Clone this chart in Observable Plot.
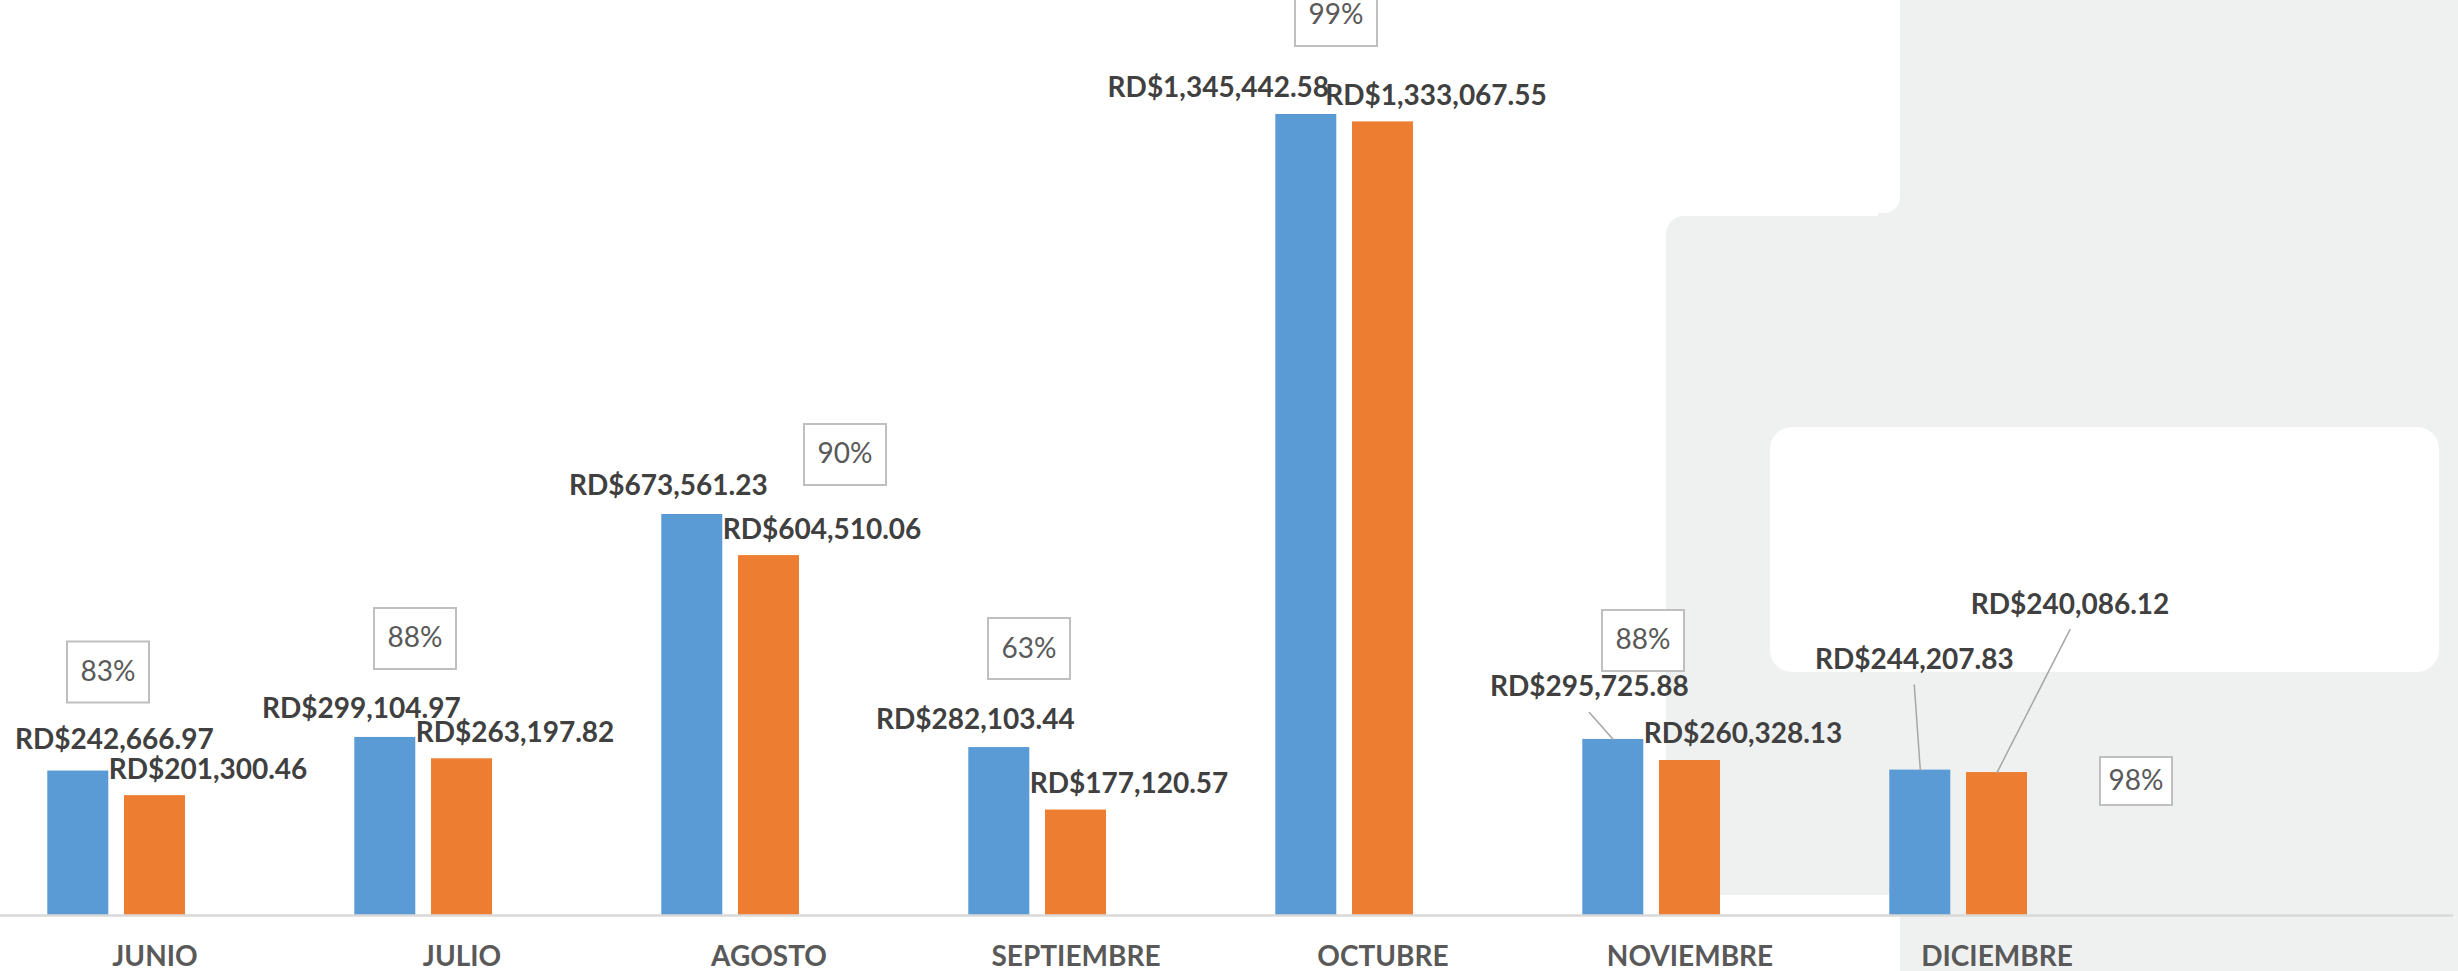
<!DOCTYPE html>
<html>
<head>
<meta charset="utf-8">
<script src="https://cdn.jsdelivr.net/npm/d3@7"></script>
<script src="https://cdn.jsdelivr.net/npm/@observablehq/plot@0.6"></script>
<style>
  html, body { margin: 0; padding: 0; background: #ffffff; }
  #wrap { position: relative; width: 2458px; height: 971px; overflow: hidden; background: #ffffff; }
  .g { position: absolute; background: #eff1f0; }
  .w { position: absolute; background: #ffffff; }
  #chart { position: absolute; left: 0; top: 0; }
</style>
</head>
<body>
<div id="wrap">
  <div class="g" style="left:1900px;top:0;width:558px;height:971px"></div>
  <div class="g" style="left:1666px;top:216px;width:792px;height:679px;border-radius:18px 0 0 30px"></div>
  <div class="g" style="left:1878px;top:190px;width:30px;height:30px"></div>
  <div class="w" style="left:1500px;top:0;width:400px;height:213px;border-bottom-right-radius:16px"></div>
  <div class="w" style="left:1770px;top:427px;width:669px;height:245px;border-radius:22px"></div>
  <div id="chart"></div>
</div>
<script>
// ---- data ----
const months = ["JUNIO", "JULIO", "AGOSTO", "SEPTIEMBRE", "OCTUBRE", "NOVIEMBRE", "DICIEMBRE"];
const presupuesto = [242666.97, 299104.97, 673561.23, 282103.44, 1345442.58, 295725.88, 244207.83];
const ejecutado = [201300.46, 263197.82, 604510.06, 177120.57, 1333067.55, 260328.13, 240086.12];
const porcentaje = [83, 88, 90, 63, 99, 88, 98];
const seriesNames = ["Presupuesto", "Ejecutado"];
const seriesColors = ["#5b9bd5", "#ed7d31"];

// ---- layout (styling) ----
const slot = 76.7;                       // distance between neighbouring bars of a group
const shift = {Presupuesto: -slot, Ejecutado: 0};
const labelDefault = {Presupuesto: [-24, -28], Ejecutado: [53, -26]};
const labelNudge = {
  "JUNIO|Presupuesto": [36, -31],
  "OCTUBRE|Presupuesto": [-88, -26],
  "NOVIEMBRE|Presupuesto": [-24, -52],
  "DICIEMBRE|Presupuesto": [-6, -110],
  "DICIEMBRE|Ejecutado": [73, -168]
};
const leaderKeys = ["NOVIEMBRE|Presupuesto", "DICIEMBRE|Presupuesto", "DICIEMBRE|Ejecutado"];
const pctDefault = [-47, -99];
const pctNudge = {AGOSTO: [76, -60], DICIEMBRE: [139, 11]};

const rows = months.flatMap((m, i) => [
  {month: m, serie: "Presupuesto", value: presupuesto[i]},
  {month: m, serie: "Ejecutado", value: ejecutado[i]}
]);
const pctRows = months.map((m, i) => ({month: m, pct: porcentaje[i], ref: presupuesto[i]}));

const fmt = v => "RD$" + d3.format(",.2f")(v);
const key = d => d.month + "|" + d.serie;
const offOf = d => labelNudge[key(d)] || labelDefault[d.serie];

const font = "Lato, 'Open Sans', sans-serif";
const marks = [];

// bars
seriesNames.forEach((s, k) => {
  marks.push(Plot.barY(rows.filter(d => d.serie === s), {
    x: "month", y: "value", fill: seriesColors[k], dx: shift[s]
  }));
});

// baseline
marks.push(Plot.ruleY([0], {stroke: "#d9d9d9", strokeWidth: 2.5}));

// leader lines (constant pixel length and angle per label)
const lineShape = {draw(context, l) { context.moveTo(0, 0); context.lineTo(0, -l); }};
leaderKeys.forEach(k => {
  const d = rows.find(r => key(r) === k);
  const [ox, oy] = offOf(d);
  const ex = ox, ey = oy + 25;
  marks.push(Plot.vector([d], {
    x: "month", y: "value", dx: shift[d.serie],
    length: Math.hypot(ex, ey),
    rotate: Math.atan2(ex, -ey) * 180 / Math.PI,
    anchor: "start", shape: lineShape, stroke: "#a6a6a6", strokeWidth: 1.5
  }));
});

// value labels, grouped by offset
const groups = d3.group(rows, d => offOf(d).join(","));
for (const [, g] of groups) {
  const [ox, oy] = offOf(g[0]);
  marks.push(Plot.text(g, {
    x: "month", y: "value", text: d => fmt(d.value),
    dx: shift[g[0].serie] + ox, dy: oy,
    fontSize: 28, fontWeight: "bold", fill: "#404040", fontFamily: font
  }));
}

// percentage boxes
const boxSymbol = (w, h) => ({draw(context) { context.rect(-w / 2, -h / 2, w, h); }});
const pctGroups = d3.group(pctRows, d => (pctNudge[d.month] || pctDefault).join(","));
for (const [, g] of pctGroups) {
  const [ox, oy] = pctNudge[g[0].month] || pctDefault;
  const small = g[0].month === "DICIEMBRE";
  marks.push(Plot.dot(g, {
    x: "month", y: "ref", dx: ox, dy: oy,
    symbol: small ? boxSymbol(72, 48) : boxSymbol(82, 61),
    fill: "white", stroke: "#bfbfbf", strokeWidth: 2
  }));
  marks.push(Plot.text(g, {
    x: "month", y: "ref", dx: ox, dy: oy, text: d => d.pct + "%",
    fontSize: 28, fill: "#595959", fontFamily: font
  }));
}

// category axis
marks.push(Plot.axisX({
  tickSize: 0, tickPadding: 31, label: null,
  fontSize: 28, fontWeight: "bold", color: "#595959", fontFamily: font
}));

const chart = Plot.plot({
  width: 2458,
  height: 971,
  marginLeft: 0,
  marginRight: 5,
  marginTop: 114,
  marginBottom: 56,
  style: {background: "transparent", fontFamily: font, overflow: "visible"},
  x: {domain: months, range: [0, 2151], paddingInner: 0.8015, paddingOuter: 0.4008},
  y: {domain: [0, d3.max(presupuesto)], axis: null},
  marks
});
document.getElementById("chart").appendChild(chart);
</script>
</body>
</html>
